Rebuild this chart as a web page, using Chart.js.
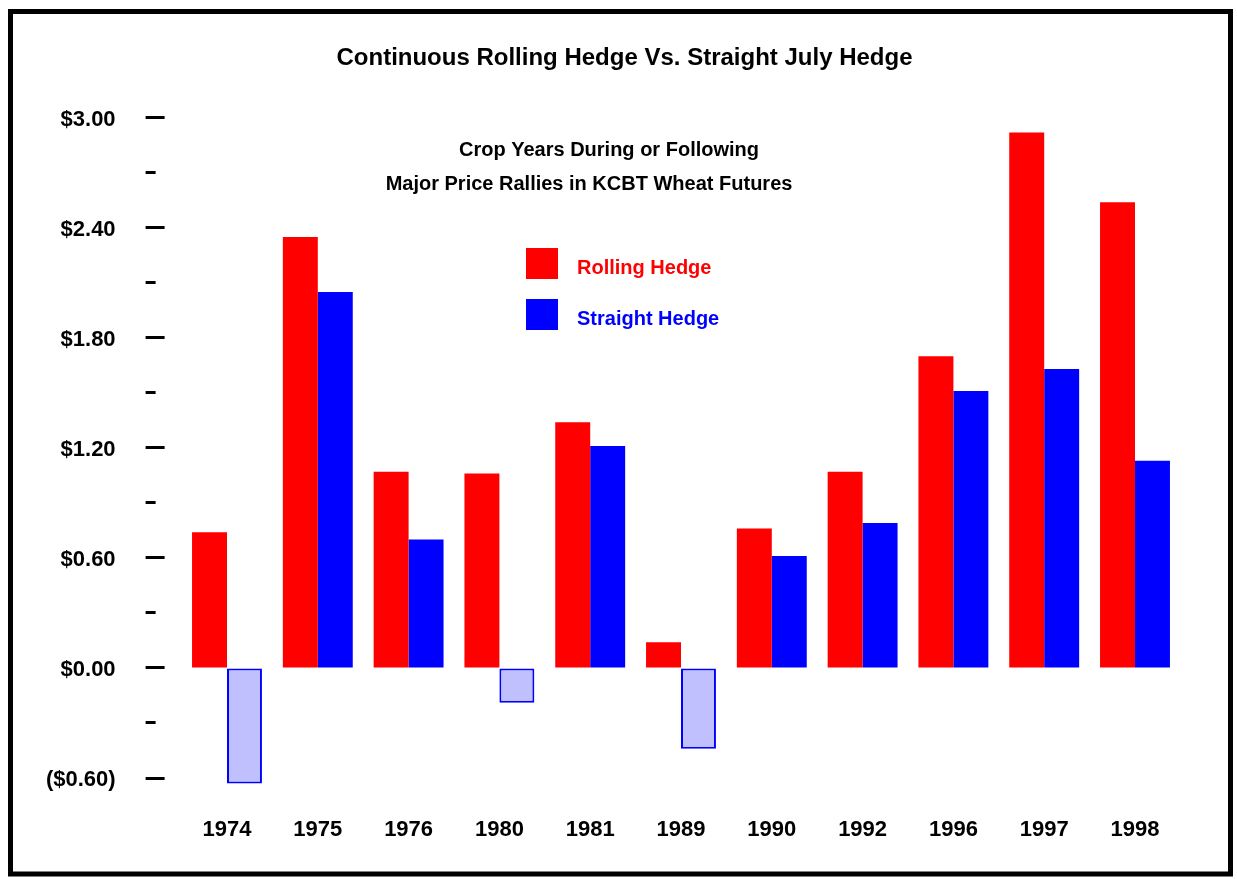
<!DOCTYPE html>
<html>
<head>
<meta charset="utf-8">
<script src="https://cdn.jsdelivr.net/npm/chart.js@4/dist/chart.umd.min.js"></script>
<style>
  html, body { margin: 0; padding: 0; background: #ffffff; }
  canvas { display: block; }
</style>
</head>
<body>
<canvas id="c" width="1237" height="879"></canvas>
<script>
const categories = ['1974', '1975', '1976', '1980', '1981', '1989', '1990', '1992', '1996', '1997', '1998'];
const rollingHedge = [0.74, 2.35, 1.07, 1.06, 1.34, 0.14, 0.76, 1.07, 1.70, 2.92, 2.54];
const straightHedge = [-0.63, 2.05, 0.70, -0.19, 1.21, -0.44, 0.61, 0.79, 1.51, 1.63, 1.13];
const seriesNames = ['Rolling Hedge', 'Straight Hedge'];
const chartTitle = 'Continuous Rolling Hedge Vs. Straight July Hedge';
const subtitleLines = ['Crop Years During or Following', 'Major Price Rallies in KCBT Wheat Futures'];
const yMin = -0.6, yMax = 3.0, yStep = 0.3;

const RED = '#ff0000';
const BLUE = '#0000ff';
const LAVENDER = '#c0c0ff';
const FONT = "'Liberation Sans', Arial, sans-serif";

function fmtMoney(v) {
  const k = Math.round(v * 10);
  if (k % 6 !== 0) return '';
  const s = '$' + Math.abs(v).toFixed(2);
  return v < 0 ? '(' + s + ')' : s;
}

const decorPlugin = {
  id: 'decor',
  afterDraw(chart) {
    const ctx = chart.ctx;
    ctx.save();
    // subtitle lines
    ctx.fillStyle = '#000';
    ctx.font = 'bold 20px ' + FONT;
    ctx.textAlign = 'center';
    ctx.textBaseline = 'middle';
    ctx.fillText(subtitleLines[0], 609, 150);
    ctx.fillText(subtitleLines[1], 589, 184);
    // legend
    const legendColors = [RED, BLUE];
    chart.data.datasets.forEach((ds, i) => {
      const y = 248 + i * 51;
      ctx.fillStyle = legendColors[i];
      ctx.fillRect(526, y, 32, 31);
      ctx.textAlign = 'left';
      ctx.fillText(ds.label, 577, y + 20);
    });
    // frame
    ctx.strokeStyle = '#000';
    ctx.lineWidth = 5;
    ctx.strokeRect(10.5, 11.5, 1220, 862.5);
    ctx.restore();
  }
};

new Chart(document.getElementById('c'), {
  type: 'bar',
  data: {
    labels: categories,
    datasets: [
      {
        label: seriesNames[0],
        data: rollingHedge,
        backgroundColor: RED,
        borderWidth: 0,
        clip: false
      },
      {
        label: seriesNames[1],
        data: straightHedge,
        backgroundColor: (c) => (c.raw < 0 ? LAVENDER : BLUE),
        borderColor: BLUE,
        borderWidth: (c) => (c.raw < 0 ? 2 : 0),
        borderSkipped: false,
        clip: false
      }
    ]
  },
  options: {
    responsive: false,
    animation: false,
    devicePixelRatio: 1,
    categoryPercentage: 0.77,
    barPercentage: 1.0,
    layout: { padding: { left: 12, right: 0, top: 0, bottom: 0 } },
    plugins: {
      legend: { display: false },
      tooltip: { enabled: false },
      title: {
        display: true,
        text: chartTitle,
        color: '#000',
        font: { family: FONT, size: 24, weight: 'bold' },
        padding: { top: 44, bottom: 45 }
      }
    },
    scales: {
      x: {
        grid: { display: false },
        border: { display: false },
        ticks: {
          color: '#000',
          font: { family: FONT, size: 22, weight: 'bold' },
          padding: 31,
          maxRotation: 0
        },
        afterFit: (s) => { s.height = 101; }
      },
      y: {
        min: yMin,
        max: yMax,
        border: { display: false },
        grid: {
          drawOnChartArea: false,
          drawTicks: true,
          tickLength: 36,
          tickWidth: 3,
          tickColor: '#000',
          tickBorderDash: (c) => {
            const k = Math.round(c.tick.value * 10);
            return k % 6 === 0 ? [19, 100] : [10, 100];
          }
        },
        ticks: {
          stepSize: yStep,
          color: '#000',
          font: { family: FONT, size: 22, weight: 'bold' },
          padding: 30,
          labelOffset: 2,
          callback: (v) => fmtMoney(v)
        },
        afterFit: (s) => { s.width = 169.6; }
      },
      yRightMargin: {
        position: 'right',
        min: yMin,
        max: yMax,
        grid: { display: false },
        border: { display: false },
        ticks: { display: false },
        afterFit: (s) => { s.width = 56.6; }
      }
    }
  },
  plugins: [decorPlugin]
});
</script>
</body>
</html>
